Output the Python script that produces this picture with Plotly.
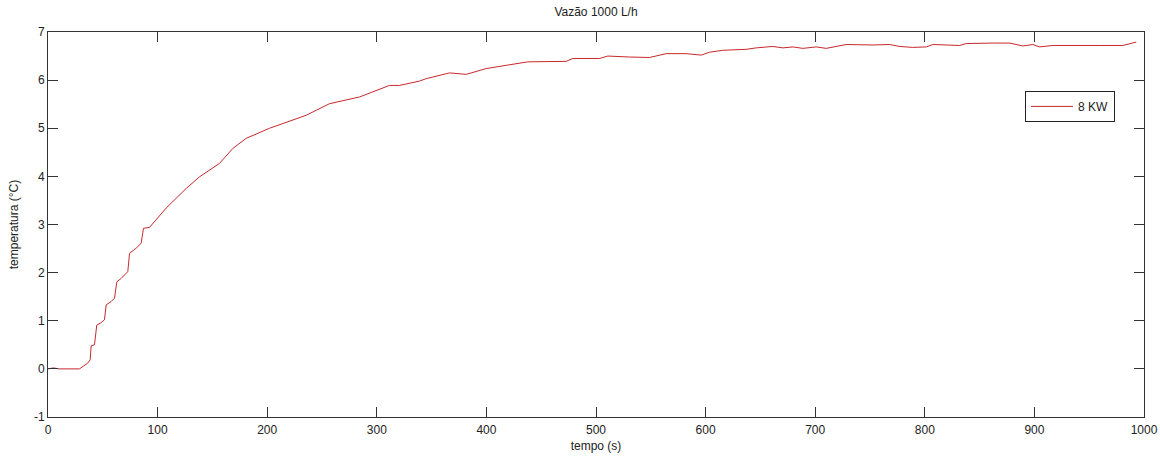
import plotly.graph_objects as go

# Temperature rise over time, 1000 L/h flow, 8 kW heater
tempo = [0, 5, 10, 20, 28.7, 36.3, 38.5, 39.4, 42.4, 44.5, 48.5, 51.5, 53.1, 57.7, 60.7,
         62.8, 66.8, 72.8, 74.4, 80.5, 85, 87.1, 92.6, 107.8, 120, 126.1, 138.2, 156.5,
         168.6, 180.8, 202.1, 235.6, 256.8, 284.2, 311.6, 320.7, 339, 345, 366.3, 381.6,
         399.8, 421, 437.8, 472.8, 478.8, 503.2, 510.8, 530.6, 548.8, 564, 582.3, 596,
         603.6, 615.7, 637, 646.2, 661.3, 670.4, 679.6, 688.7, 700.9, 710, 728.3, 752.6,
         767.8, 776.9, 789, 801.3, 807.3, 831.7, 837.8, 862.1, 877.6, 889.4, 898.6, 904.6,
         916.8, 959.7, 980.7, 992.9]
temperatura = [0, 0.02, 0, 0, 0, 0.12, 0.19, 0.48, 0.5, 0.91, 0.96, 1.02, 1.33, 1.40, 1.47,
               1.81, 1.88, 2.02, 2.40, 2.51, 2.61, 2.92, 2.94, 3.34, 3.61, 3.75, 3.99, 4.27,
               4.58, 4.79, 5.0, 5.27, 5.51, 5.65, 5.89, 5.89, 5.98, 6.03, 6.15, 6.12,
               6.24, 6.31, 6.38, 6.39, 6.45, 6.45, 6.50, 6.48, 6.47, 6.55, 6.55, 6.52,
               6.58, 6.62, 6.64, 6.67, 6.70, 6.67, 6.69, 6.66, 6.69, 6.66, 6.74, 6.73,
               6.74, 6.70, 6.68, 6.69, 6.74, 6.72, 6.76, 6.77, 6.77, 6.71, 6.74, 6.69,
               6.72, 6.72, 6.72, 6.79]

x_ticks = list(range(0, 1001, 100))
y_ticks = list(range(-1, 8))
y_tick_labels = [str(v) for v in y_ticks]  # plain hyphen for negatives

font = "Liberation Sans, Arial, sans-serif"
ink = "#222222"

fig = go.Figure()
fig.add_trace(go.Scatter(
    x=tempo, y=temperatura, mode="lines", name="8 KW",
    line=dict(color="#c8282c", width=1),
))

axis_common = dict(
    showline=True, linecolor="#333333", linewidth=1, mirror="ticks",
    ticks="inside", ticklen=10, tickcolor="#333333", tickwidth=1,
    showgrid=False, zeroline=False, automargin=False,
    tickfont=dict(family=font, size=12, color=ink),
)

fig.update_layout(
    width=1160, height=458,
    margin=dict(l=48, r=16, t=32, b=41),
    paper_bgcolor="white", plot_bgcolor="white",
    title=dict(text="Vazão 1000 L/h", x=0.5138, xanchor="center",
               y=1 - 12 / 458, yanchor="middle",
               font=dict(family=font, size=12, color=ink)),
    xaxis=dict(range=[0, 1000], tickvals=x_ticks, ticklabelstandoff=2,
               title=dict(text="tempo (s)", standoff=5,
                          font=dict(family=font, size=12, color=ink)),
               **axis_common),
    yaxis=dict(range=[-1, 7], tickvals=y_ticks, ticktext=y_tick_labels,
               title=dict(text="temperatura (°C)", standoff=12,
                          font=dict(family=font, size=12, color=ink)),
               **axis_common),
    showlegend=True,
    legend=dict(x=0.9735, xanchor="right", y=0.847, yanchor="top",
                bgcolor="white", bordercolor=ink, borderwidth=1,
                font=dict(family=font, size=12, color=ink),
                tracegroupgap=0, itemwidth=42),
)

fig.write_html("out.html")
